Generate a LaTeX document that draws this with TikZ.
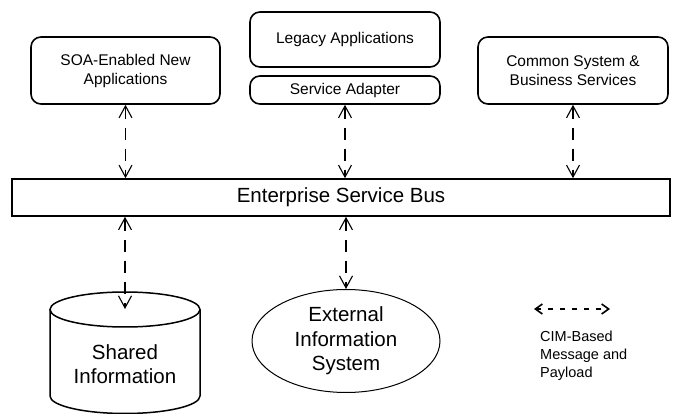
\documentclass[tikz,border=0pt]{standalone}
\usepackage{fontspec}
\setmainfont{Liberation Sans}
\usetikzlibrary{arrows.meta,shapes.geometric}

\begin{document}
\begin{tikzpicture}[x=1pt,y=-1pt,
  box/.style={draw, line width=1.6pt, rounded corners=10pt, inner sep=0pt,
    align=center, font=\fontsize{15.5}{19}\selectfont},
  bus/.style={draw, line width=1.6pt, inner sep=0pt,
    font=\fontsize{20.5}{24}\selectfont},
  big/.style={inner sep=0pt, align=center, font=\fontsize{20.5}{24.5}\selectfont},
  barb/.tip={Straight Barb[length=12pt,width=13pt,line width=1.1pt]},
  smallbarb/.tip={Straight Barb[length=7pt,width=10pt,line width=1.6pt]},
  link/.style={line width=1.1pt, dash pattern=on 12pt off 9pt, barb-barb},
  keylink/.style={line width=1.6pt, dash pattern=on 5pt off 7pt, smallbarb-smallbarb}]

\useasboundingbox (0,0) rectangle (678,414);

% applications and services above the bus
\node[box, minimum width=189pt, minimum height=67pt] (soa) at (125.5,70.5)
  {SOA-Enabled New\\Applications};
\node[box, minimum width=190pt, minimum height=55pt] (legacy) at (345,39.5)
  {Legacy Applications};
\node[box, minimum width=190pt, minimum height=28pt] (adapter) at (345,90)
  {Service Adapter};
\node[box, minimum width=190pt, minimum height=67pt] (common) at (573,70.5)
  {Common System \&\\Business Services};

% the bus
\node[bus, minimum width=658pt, minimum height=37pt] (esb) at (341,197.5)
  {Enterprise Service Bus};

% shared information store (cylinder)
\draw[line width=1.5pt] (50,309.5) -- (50,396)
  arc[start angle=180, end angle=360, x radius=75pt, y radius=17.5pt] -- (200,309.5);
\draw[line width=1.5pt] (125,309.5) ellipse[x radius=75pt, y radius=17.5pt];
\node[big] (shared) at (125,364) {Shared\\Information};
\coordinate (cyltop) at (125,309);

% external system
\node[ellipse, draw, line width=1pt, minimum width=188pt, minimum height=103pt,
  inner sep=0pt, align=center, font=\fontsize{20.5}{24.5}\selectfont]
  (ext) at (346,341) {External\\Information\\System};

% message connectors
\draw[link] (soa.south) -- (soa.south |- esb.north);
\draw[link] (adapter.south) -- (adapter.south |- esb.north);
\draw[link] (common.south) -- (common.south |- esb.north);
\draw[link] (esb.south -| cyltop) -- (cyltop);
\draw[link] (esb.south -| ext.north) -- (ext.north);

% key
\coordinate (keyA) at (534,309);
\coordinate (keyB) at (610,309);
\draw[keylink] (keyA) -- (keyB);
\node[inner sep=0pt, anchor=north west, align=left,
  font=\fontsize{14.5}{18}\selectfont] (keytext) at (540,331)
  {CIM-Based\\Message and\\Payload};
\end{tikzpicture}
\end{document}
